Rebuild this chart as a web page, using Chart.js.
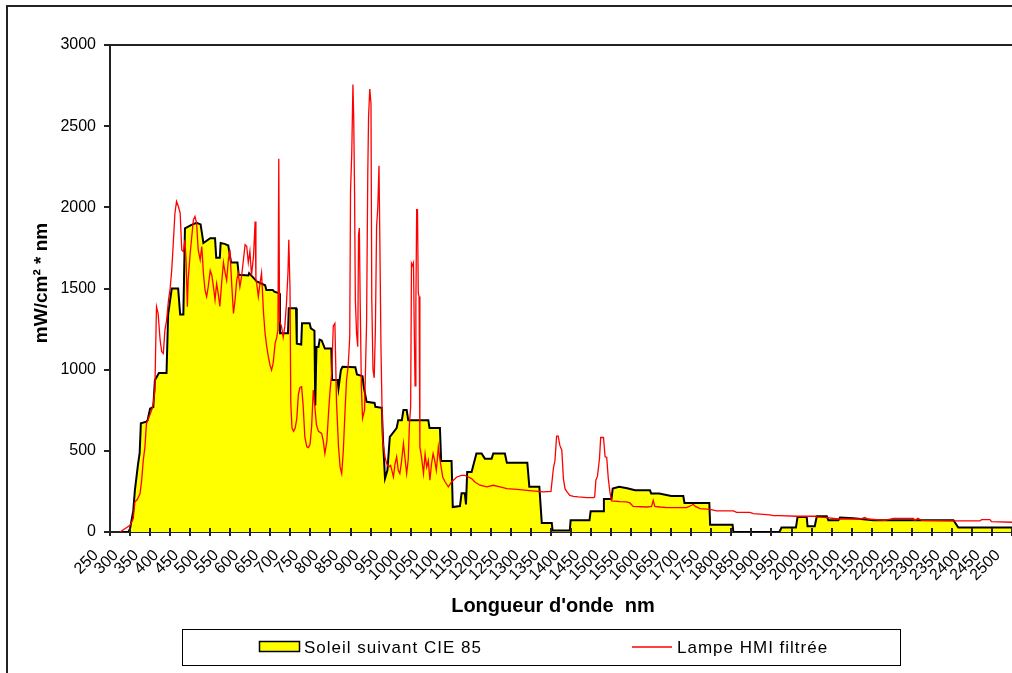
<!DOCTYPE html>
<html>
<head>
<meta charset="utf-8">
<title>Soleil CIE 85 / Lampe HMI filtrée</title>
<script src="https://cdn.jsdelivr.net/npm/chart.js@4.4.0/dist/chart.umd.min.js"></script>
<style>
  html, body { margin: 0; padding: 0; background: #fff; overflow: hidden; }
  #wrap { width: 1012px; height: 673px; }
</style>
</head>
<body>
<div id="wrap"><canvas id="spectre" width="1012" height="673"></canvas></div>
<script>
// Spectral irradiance: CIE 85 sunlight vs filtered HMI lamp, 250-2500 nm

/* ===================== Data ===================== */

// Sunlight (CIE 85), band values, wavelength in nm
const SUN_NM = [
  280, 296, 300, 308, 312, 320, 324, 327, 341, 344, 350, 358, 362, 372, 391, 395, 404, 420, 425, 433,
  437, 452, 466, 476, 483, 500, 512, 515, 524, 526, 536, 545, 552, 568, 571, 595, 597, 612, 616, 637,
  640, 656, 660, 672, 674, 694, 696, 714, 716, 727, 729, 748, 751, 760, 762, 765, 770, 773, 778, 786,
  802, 804, 818, 820, 826, 830, 862, 866, 880, 883, 890, 910, 912, 928, 931, 936, 942, 948, 965, 969,
  978, 982, 990, 994, 1044, 1047, 1073, 1076, 1102, 1105, 1123, 1127, 1135, 1138, 1141, 1152, 1164, 1177, 1185, 1202,
  1206, 1235, 1240, 1291, 1296, 1321, 1327, 1352, 1354, 1397, 1399, 1446, 1449, 1480, 1482, 1501, 1504, 1520, 1540, 1560,
  1597, 1600, 1620, 1650, 1680, 1683, 1745, 1747, 1803, 1805, 1920, 1925, 1961, 1965, 1988, 1990, 2008, 2013, 2038, 2042,
  2067, 2071, 2104, 2154, 2354, 2366, 2500,
];
const SUN_VAL = [
  0, 0, 20, 130, 255, 420, 485, 670, 680, 690, 760, 770, 935, 980, 980, 1340, 1500, 1500, 1340, 1340,
  1870, 1890, 1905, 1895, 1780, 1810, 1810, 1690, 1690, 1780, 1775, 1765, 1660, 1660, 1585, 1580, 1595, 1555, 1543, 1520,
  1490, 1490, 1480, 1470, 1224, 1224, 1378, 1378, 1160, 1155, 1286, 1286, 1255, 1240, 780, 1140, 1140, 1185, 1180, 1130,
  1130, 936, 936, 886, 998, 1018, 1015, 970, 960, 894, 802, 795, 771, 765, 566, 330, 380, 586, 640, 689,
  689, 751, 751, 689, 689, 640, 640, 438, 438, 154, 160, 239, 239, 170, 370, 370, 484, 484, 452, 452,
  484, 484, 426, 426, 278, 278, 56, 56, 10, 10, 72, 72, 128, 128, 204, 204, 268, 279, 270, 257,
  257, 237, 237, 222, 222, 179, 179, 45, 45, 0, 0, 27, 27, 93, 93, 35, 35, 97, 97, 72,
  72, 89, 85, 72, 72, 27, 27,
];

// Filtered HMI lamp
const HMI_NM = [
  275, 287, 300, 308, 312, 318, 325, 329, 333, 337, 341, 346, 354, 358, 362, 364, 366, 370, 375, 379,
  383, 387, 391, 396, 400, 404, 408, 412, 416, 420, 425, 429, 433, 437, 440, 443, 445, 450, 458, 462,
  466, 470, 475, 479, 483, 487, 491, 495, 500, 504, 508, 512, 516, 520, 524, 529, 533, 537, 541, 545,
  549, 554, 558, 562, 566, 570, 574, 578, 583, 587, 591, 595, 599, 603, 608, 612, 614, 617, 620, 624,
  628, 633, 637, 641, 645, 649, 653, 657, 662, 666, 669, 671, 673, 678, 682, 686, 690, 694, 696, 699,
  701, 704, 708, 712, 716, 720, 724, 728, 732, 736, 741, 745, 749, 753, 757, 761, 765, 770, 778, 782,
  786, 791, 795, 799, 803, 807, 811, 815, 820, 824, 828, 832, 836, 840, 844, 848, 850, 853, 856, 858,
  860, 862, 865, 868, 870, 872, 874, 877, 880, 885, 890, 893, 895, 898, 901, 903, 906, 909, 912, 915,
  918, 921, 923, 926, 930, 936, 940, 945, 950, 957, 961, 965, 969, 973, 977, 982, 986, 990, 994, 997,
  1000, 1002, 1005, 1007, 1009, 1011, 1013, 1015, 1017, 1019, 1021, 1023, 1027, 1032, 1036, 1040, 1044, 1048, 1052, 1056,
  1060, 1064, 1067, 1069, 1072, 1076, 1080, 1086, 1094, 1102, 1115, 1127, 1135, 1144, 1152, 1160, 1173, 1190, 1206, 1223,
  1240, 1273, 1290, 1331, 1350, 1356, 1360, 1364, 1368, 1372, 1377, 1381, 1385, 1390, 1397, 1406, 1418, 1440, 1456, 1459,
  1462, 1466, 1471, 1474, 1481, 1485, 1489, 1493, 1497, 1501, 1522, 1539, 1547, 1555, 1589, 1601, 1605, 1609, 1622, 1639,
  1688, 1701, 1705, 1710, 1722, 1747, 1763, 1805, 1813, 1846, 1855, 1896, 1905, 1921, 1963, 2010, 2013, 2038, 2067, 2121,
  2133, 2140, 2183, 2204, 2254, 2258, 2265, 2275, 2354, 2420, 2424, 2445, 2449, 2500,
];
const HMI_VAL = [
  0, 20, 41, 82, 185, 200, 237, 319, 442, 520, 669, 700, 751, 792, 874, 1150, 1388, 1347, 1183, 1110,
  1100, 1245, 1300, 1430, 1500, 1615, 1785, 1965, 2037, 2010, 1965, 1738, 1728, 1800, 1656, 1388, 1553, 1717, 1923, 1944,
  1903, 1738, 1676, 1759, 1594, 1491, 1450, 1510, 1611, 1580, 1511, 1430, 1530, 1470, 1390, 1550, 1660, 1600, 1550, 1672,
  1740, 1510, 1347, 1430, 1550, 1595, 1510, 1570, 1680, 1770, 1760, 1660, 1729, 1580, 1700, 1913, 1560, 1510, 1450, 1530,
  1595, 1347, 1220, 1141, 1080, 1028, 997, 1040, 1163, 1200, 1250, 2300, 1300, 1265, 1200, 1265, 1400, 1600, 1800, 1500,
  792, 640, 620, 640, 700, 850, 890, 895, 771, 586, 525, 520, 540, 650, 874, 771, 660, 620, 607, 560,
  484, 560, 730, 874, 977, 1270, 1285, 800, 525, 401, 360, 500, 730, 936, 1018, 1200, 2100, 2330, 2756, 2540,
  2108, 1430, 1224, 1142, 1830, 1872, 1430, 900, 700, 750, 1286, 2200, 2561, 2729, 2640, 1430, 1000, 950, 1245, 1882,
  2000, 2256, 1820, 1121, 566, 463, 422, 400, 410, 339, 420, 463, 380, 360, 430, 545, 450, 360, 450, 668,
  771, 1656, 1640, 1656, 1244, 900, 1400, 1985, 1985, 1471, 1450, 524, 463, 360, 480, 400, 440, 319, 420, 483,
  440, 380, 463, 524, 463, 400, 339, 308, 278, 308, 339, 349, 349, 339, 329, 308, 288, 278, 288, 278,
  267, 261, 257, 247, 250, 391, 442, 590, 590, 535, 504, 329, 267, 247, 226, 220, 216, 212, 212, 215,
  319, 344, 453, 582, 582, 463, 460, 329, 247, 191, 187, 185, 179, 158, 154, 158, 195, 158, 154, 150,
  150, 165, 171, 158, 144, 140, 130, 130, 121, 121, 113, 105, 101, 101, 97, 97, 93, 89, 80, 80,
  89, 80, 72, 84, 84, 72, 84, 72, 68, 68, 76, 76, 64, 60,
];

const X_MIN = 250;
const X_MAX = 2500;
const X_STEP = 50;
const Y_MAX = 3000;
const Y_STEP = 500;

/* ===================== Helpers ===================== */

const FONT = "'Liberation Sans', Arial, sans-serif";

function toPoints(xs, ys) {
  return xs.map((x, i) => ({ x, y: ys[i] }));
}

// White page, Excel-style frame, plot top edge, crossing ticks, axis titles and the boxed legend
const chartFrame = {
  id: "chartFrame",
  beforeDraw(chart) {
    const { ctx, width, height } = chart;
    ctx.save();
    ctx.fillStyle = "#fff";
    ctx.fillRect(0, 0, width, height);
    ctx.restore();
  },
  afterDraw(chart) {
    const { ctx, chartArea: a, scales } = chart;
    ctx.save();
    ctx.strokeStyle = "#222";
    ctx.lineWidth = 2;

    ctx.beginPath();
    ctx.moveTo(7, chart.height);
    ctx.lineTo(7, 6);
    ctx.lineTo(chart.width, 6);
    ctx.stroke();

    ctx.beginPath();
    ctx.moveTo(a.left - 1, a.top);
    ctx.lineTo(a.right, a.top);
    ctx.stroke();

    // inner half of the x tick marks
    ctx.beginPath();
    for (const t of scales.x.ticks) {
      const px = Math.round(scales.x.getPixelForValue(t.value));
      ctx.moveTo(px, a.bottom);
      ctx.lineTo(px, a.bottom - 4);
    }
    ctx.stroke();

    // axis titles
    ctx.fillStyle = "#000";
    ctx.textAlign = "center";
    ctx.textBaseline = "middle";
    ctx.font = `bold 20px ${FONT}`;
    ctx.fillText(scales.x.options.title.text, 553, 606);
    ctx.save();
    ctx.translate(42, 283);
    ctx.rotate(-Math.PI / 2);
    ctx.font = `bold 19px ${FONT}`;
    ctx.fillText(scales.y.options.title.text, 0, 0);
    ctx.restore();

    // legend
    const [sun, hmi] = chart.data.datasets;
    ctx.lineWidth = 1;
    ctx.strokeStyle = "#000";
    ctx.strokeRect(182.5, 629.5, 718, 36);

    ctx.fillStyle = sun.backgroundColor;
    ctx.fillRect(259, 641, 41, 11);
    ctx.lineWidth = 1.5;
    ctx.strokeRect(259.5, 641.5, 40, 10);

    ctx.strokeStyle = hmi.borderColor;
    ctx.lineWidth = 1.5;
    ctx.beginPath();
    ctx.moveTo(632, 647);
    ctx.lineTo(672, 647);
    ctx.stroke();

    ctx.fillStyle = "#000";
    ctx.textAlign = "left";
    ctx.font = `17px ${FONT}`;
    ctx.letterSpacing = "1px";
    ctx.fillText(sun.label, 304, 648);
    ctx.fillText(hmi.label, 677, 648);
    ctx.restore();
  },
};

/* ===================== Chart ===================== */

Chart.defaults.font.family = FONT;
Chart.defaults.color = "#000";

new Chart(document.getElementById("spectre"), {
  type: "line",
  data: {
    datasets: [
      {
        label: "Soleil suivant CIE 85",
        data: toPoints(SUN_NM, SUN_VAL),
        borderColor: "#000",
        borderWidth: 2,
        backgroundColor: "#ffff00",
        fill: "origin",
        pointRadius: 0,
        order: 2,
      },
      {
        label: "Lampe HMI filtrée",
        data: toPoints(HMI_NM, HMI_VAL),
        borderColor: "#ff0000",
        borderWidth: 1.3,
        fill: false,
        pointRadius: 0,
        order: 1,
      },
    ],
  },
  options: {
    responsive: false,
    animation: false,
    devicePixelRatio: 1,
    layout: { padding: { top: 45, left: 0, right: 0, bottom: 0 } },
    plugins: {
      legend: { display: false },
      tooltip: { enabled: false },
    },
    scales: {
      x: {
        type: "linear",
        min: X_MIN,
        max: X_MAX,
        ticks: {
          stepSize: X_STEP,
          maxTicksLimit: 100,
          autoSkip: false,
          minRotation: 45,
          maxRotation: 45,
          padding: 10,
          labelOffset: -14,
          font: { size: 16 },
          callback: (v) => String(v),
        },
        grid: { drawOnChartArea: false, tickLength: 4, color: "#222", lineWidth: 2 },
        border: { color: "#222", width: 2 },
        title: { display: false, text: "Longueur d'onde  nm" },
        afterFit(s) {
          s.height = 141;
          s.paddingLeft = 0;
          s.paddingRight = 0;
        },
      },
      y: {
        min: 0,
        max: Y_MAX,
        ticks: {
          stepSize: Y_STEP,
          padding: 8,
          font: { size: 16 },
          callback: (v) => String(v),
        },
        grid: { drawOnChartArea: false, tickLength: 6, color: "#222", lineWidth: 2 },
        border: { color: "#222", width: 2 },
        title: { display: false, text: "mW/cm² * nm" },
        afterFit(s) {
          s.width = 110;
          s.paddingTop = 0;
          s.paddingBottom = 0;
        },
      },
    },
  },
  plugins: [chartFrame],
});
</script>
</body>
</html>
